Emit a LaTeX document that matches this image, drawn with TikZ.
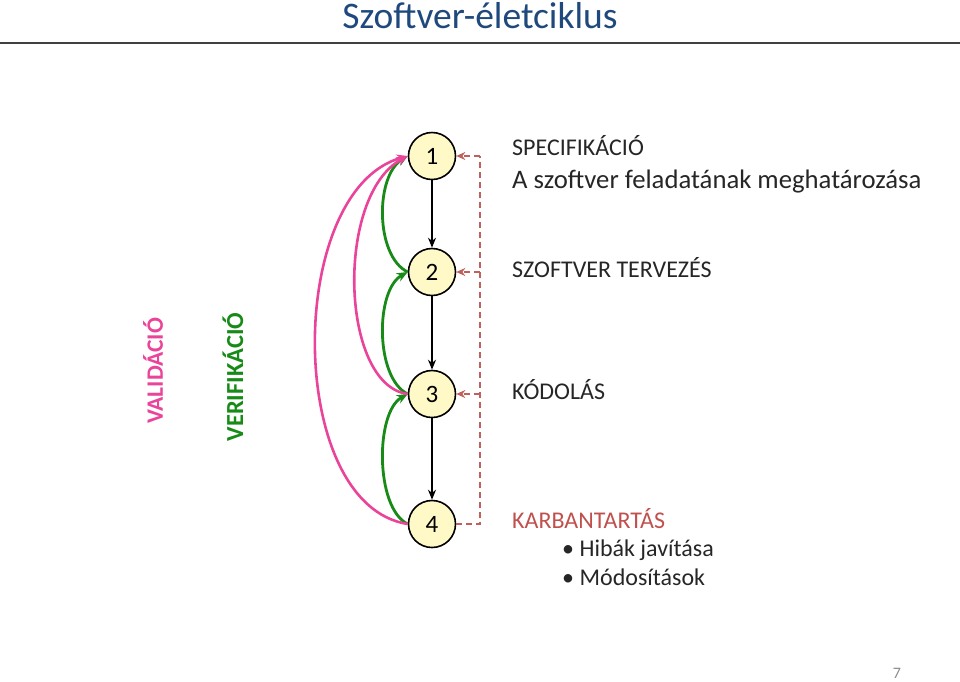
\documentclass[tikz,border=0pt]{standalone}
\usepackage{fontspec}
\setmainfont{Carlito}
\usetikzlibrary{arrows.meta}
\definecolor{titleblue}{HTML}{1F497D}
\definecolor{nodefill}{HTML}{FFF9C8}
\definecolor{pinkc}{HTML}{EA449A}
\definecolor{greenc}{HTML}{178A17}
\definecolor{dashc}{HTML}{C0605C}
\definecolor{redtext}{HTML}{C0504D}
\newcommand{\fs}[1]{\fontsize{#1}{#1}\selectfont}
\begin{document}
\begin{tikzpicture}[x=1pt,y=-1pt,
  stepnode/.style={circle,draw=black,line width=1.6pt,fill=nodefill,minimum size=47pt,inner sep=0pt,font=\fs{25}},
  flowarrow/.style={draw=black,line width=1.6pt,-{Stealth[length=10pt,width=8pt]}},
  greenarrow/.style={draw=greenc,line width=2.8pt,-{Stealth[length=11pt,width=9pt]}},
  pinkarrow/.style={draw=pinkc,line width=2.6pt,-{Stealth[length=11pt,width=9pt]}},
  dasharrow/.style={draw=dashc,line width=1.7pt,dash pattern=on 6pt off 4pt,-{Stealth[length=9pt,width=8pt]}},
  label/.style={anchor=base west,inner sep=0pt,text=black!85}
]
\useasboundingbox (0,0) rectangle (960,681);
% title
\node[anchor=center,inner sep=0pt,text=titleblue,font=\fs{37.5}] (title) at (480,16) {Szoftver-életciklus};
\draw[line width=2pt,black!75] (0,43) -- (960,43);
% nodes
\node[stepnode] (n1) at (432,156) {1};
\node[stepnode] (n2) at (432,272) {2};
\node[stepnode] (n3) at (432,394) {3};
\node[stepnode] (n4) at (432,524) {4};
% flow arrows
\draw[flowarrow] (n1) -- (n2);
\draw[flowarrow] (n2) -- (n3);
\draw[flowarrow] (n3) -- (n4);
% dashed feedback
\coordinate (d1) at (480,156);
\coordinate (d2) at (480,272);
\coordinate (d3) at (480,394);
\coordinate (d4) at (480,524);
\draw[draw=dashc,line width=1.7pt,dash pattern=on 6pt off 4pt] (n4.east) -- (d4) -- (d1);
\draw[dasharrow] (d1) -- (n1.east);
\draw[dasharrow] (d2) -- (n2.east);
\draw[dasharrow] (d3) -- (n3.east);
% green verification arrows
\draw[greenarrow] (n2.west) .. controls (375,256) and (375,176) .. (n1.west);
\draw[greenarrow] (n3.west) .. controls (375,378) and (375,290) .. (n2.west);
\draw[greenarrow] (n4.west) .. controls (375,508) and (375,412) .. (n3.west);
% pink validation arrows
\draw[pinkarrow] (n3.west) .. controls (340,385) and (335,195) .. (n1.west);
\draw[pinkarrow] (n4.west) .. controls (285,505) and (285,190) .. (n1.west);
% vertical labels
\node[rotate=90,inner sep=0pt,text=pinkc,font=\fs{23.5}\bfseries] (val) at (153,371) {VALIDÁCIÓ};
\node[rotate=90,inner sep=0pt,text=greenc,font=\fs{24.5}\bfseries] (ver) at (233,377) {VERIFIKÁCIÓ};
% texts
\node[label,font=\fs{24}] (t1) at (512,155) {SPECIFIKÁCIÓ};
\node[label,font=\fs{26.7}] (t1b) at (512,188) {A szoftver feladatának meghatározása};
\node[label,font=\fs{24}] (t2) at (512,277) {SZOFTVER TERVEZÉS};
\node[label,font=\fs{24}] (t3) at (512,399) {KÓDOLÁS};
\node[label,font=\fs{24},text=redtext] (t4) at (512,528) {KARBANTARTÁS};
\node[label,font=\fs{24}] (b1) at (562,556) {\textbullet\ Hibák javítása};
\node[label,font=\fs{24}] (b2) at (562,585) {\textbullet\ Módosítások};
\node[inner sep=0pt,text=black!45,font=\fs{16}] (pg) at (897,673) {7};
\end{tikzpicture}
\end{document}
